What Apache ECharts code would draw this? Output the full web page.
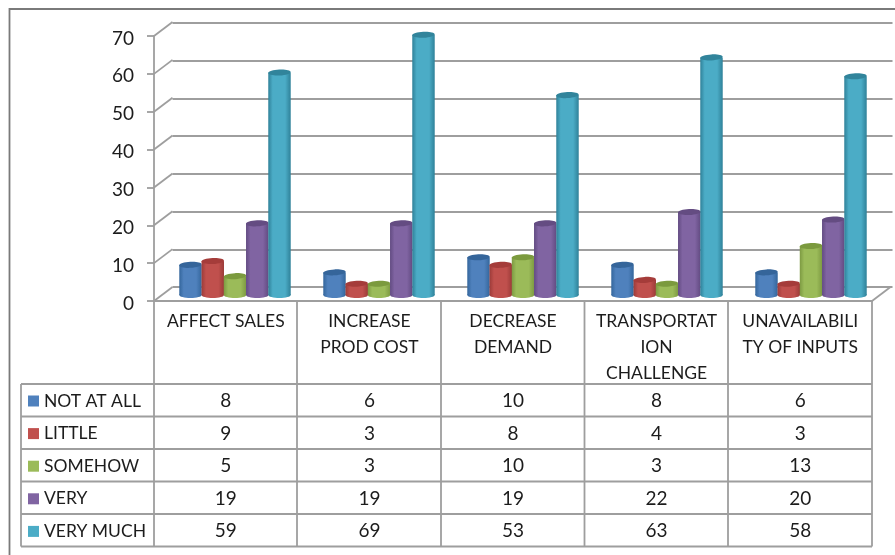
<!DOCTYPE html>
<html><head><meta charset="utf-8">
<style>html,body{margin:0;padding:0;background:#fff}#c{width:895px;height:555px}</style>
<script src="https://cdn.jsdelivr.net/npm/echarts@6/dist/echarts.min.js"></script>
</head><body><div id="c"></div>
<script>
const categories = ['AFFECT SALES','INCREASE\nPROD COST','DECREASE\nDEMAND','TRANSPORTAT\nION\nCHALLENGE','UNAVAILABILI\nTY OF INPUTS'];
const seriesNames = ['NOT AT ALL','LITTLE','SOMEHOW','VERY','VERY MUCH'];
const notAtAll = [8,6,10,8,6];
const little = [9,3,8,4,3];
const somehow = [5,3,10,3,13];
const very = [19,19,19,22,20];
const veryMuch = [59,69,53,63,58];
const yTicks = [0,10,20,30,40,50,60,70];

const allValues = [notAtAll,little,somehow,very,veryMuch];
const baseColors = ['#4f81bd','#c0504d','#9bbb59','#8064a2','#4bacc6'];
const edgeColors = ['#34669c','#9c3b39','#7d9a42','#624b82','#2f8199'];
const topColors  = ['#35659a','#a53c3a','#7b9a3e','#644c82','#31849b'];
const FONT = 'Lato';
const TEXT = '#1c1c1c';
const LINE = '#9e9e9e';
const LINE_W = 1.8;
const colX = [154,297,441,584.5,728,872];
const rowY = [384,416.5,449,481.5,514,546.5];
const DEPTH_X = 18.5, DEPTH_Y = 14;

function cylinder(idx){
  return function(params, api){
    const cat = api.value(0), v = api.value(1);
    const band = api.size([1,0])[0];
    const pitch = band * 0.1545;
    const rx = pitch/2 + 0.1, ry = 3;
    const base = api.coord([cat,0]);
    const top = api.coord([cat,v]);
    const cx = base[0] + (idx-2)*pitch;
    const grad = {type:'linear',x:0,y:0,x2:1,y2:0,colorStops:[
      {offset:0,color:edgeColors[idx]},{offset:0.2,color:baseColors[idx]},
      {offset:0.75,color:baseColors[idx]},{offset:1,color:edgeColors[idx]}]};
    return {type:'group',children:[
      {type:'ellipse',shape:{cx:cx,cy:base[1],rx:rx,ry:ry},style:{fill:grad}},
      {type:'rect',shape:{x:cx-rx,y:top[1],width:rx*2,height:base[1]-top[1]},style:{fill:grad}},
      {type:'ellipse',shape:{cx:cx,cy:top[1],rx:rx,ry:ry},rotation:0.05,originX:cx,originY:top[1],style:{fill:topColors[idx]}}
    ]};
  };
}

const tableData = [];
allValues.forEach((vals,r)=>vals.forEach((v,c)=>tableData.push([c,v,r])));

const tableLines = [];
colX.forEach(x=>tableLines.push({x1:x,y1:301,x2:x,y2:rowY[rowY.length-1]}));
tableLines.push({x1:21,y1:rowY[0],x2:21,y2:rowY[rowY.length-1]});
rowY.forEach(y=>tableLines.push({x1:21,y1:y,x2:colX[colX.length-1],y2:y}));

const grids = [
  {left:154,top:36,width:718,height:265},                 // front plane
  {left:172.5,top:23,width:720,height:264},               // back wall
  {left:163,top:31,width:720,height:264}                  // cylinders' mid-depth plane
];
const xAxes = [
  {gridIndex:0,type:'category',data:categories,axisTick:{show:false},
   axisLine:{lineStyle:{color:LINE,width:LINE_W}},
   axisLabel:{interval:0,margin:7,color:TEXT,fontFamily:FONT,fontSize:17.5,lineHeight:26,verticalAlign:'top',hideOverlap:false}},
  {gridIndex:1,type:'category',data:categories,show:false},
  {gridIndex:2,type:'category',data:categories,show:false}
];
const yAx = (g,extra)=>Object.assign({gridIndex:g,type:'value',min:0,max:70,interval:10},extra);
const yAxes = [
  yAx(0,{axisLine:{show:true,lineStyle:{color:LINE,width:LINE_W}},axisTick:{show:true,length:7,lineStyle:{color:LINE,width:LINE_W}},
     splitLine:{show:false},axisLabel:{margin:20,formatter:'{a|{value}}',
       rich:{a:{color:TEXT,fontFamily:FONT,fontSize:19,padding:[5,0,0,0]}}}}),
  yAx(1,{axisLine:{show:false},axisTick:{show:false},axisLabel:{show:false},splitLine:{show:true,lineStyle:{color:LINE,width:LINE_W}}}),
  yAx(2,{show:false})
];

const series = seriesNames.map((name,i)=>({
  name:name,type:'custom',xAxisIndex:2,yAxisIndex:2,z:5,
  itemStyle:{color:baseColors[i]},
  renderItem:cylinder(i),encode:{x:0,y:1},
  data:allValues[i].map((v,c)=>[c,v])
}));
series.push({
  name:'walls',type:'custom',xAxisIndex:0,yAxisIndex:0,z:1,
  renderItem:function(params,api){
    const v = api.value(1), cs = params.coordSys, y = api.coord([0,v])[1];
    const seg = x=>({type:'line',shape:{x1:x,y1:y,x2:x+DEPTH_X,y2:y-DEPTH_Y},style:{stroke:LINE,lineWidth:LINE_W}});
    const kids = [seg(cs.x)];
    if(v===0) kids.push(seg(cs.x+cs.width));
    return {type:'group',children:kids};
  },
  encode:{x:0,y:1},data:yTicks.map(v=>[0,v])
});
series.push({
  name:'table',type:'custom',xAxisIndex:0,yAxisIndex:0,z:6,
  renderItem:function(params,api){
    const c = api.value(0), v = api.value(1), r = api.value(2);
    return {type:'text',style:{text:String(v),x:api.coord([c,0])[0],y:(rowY[r]+rowY[r+1])/2+1,
      textAlign:'center',textVerticalAlign:'middle',fill:TEXT,font:'19px '+FONT}};
  },
  encode:{x:0,y:1},data:tableData
});

const chart = echarts.init(document.getElementById('c'),null,{renderer:'canvas'});
chart.setOption({
  animation:false,backgroundColor:'#fff',
  grid:grids,xAxis:xAxes,yAxis:yAxes,series:series,
  legend:{data:seriesNames,orient:'vertical',left:28,top:392,padding:0,itemWidth:11,itemHeight:11,itemGap:14.6,
    icon:'rect',selectedMode:false,textStyle:{color:TEXT,fontFamily:FONT,fontSize:17.5}},
  graphic:{elements:[
    {type:'rect',silent:true,z:-1,shape:{x:9.5,y:9,width:1200,height:800},style:{fill:'none',stroke:'#7a7a7a',lineWidth:1.8}}
  ].concat(tableLines.map(s=>({type:'line',silent:true,z:-1,shape:s,style:{stroke:LINE,lineWidth:LINE_W}})))}
});
</script></body></html>
